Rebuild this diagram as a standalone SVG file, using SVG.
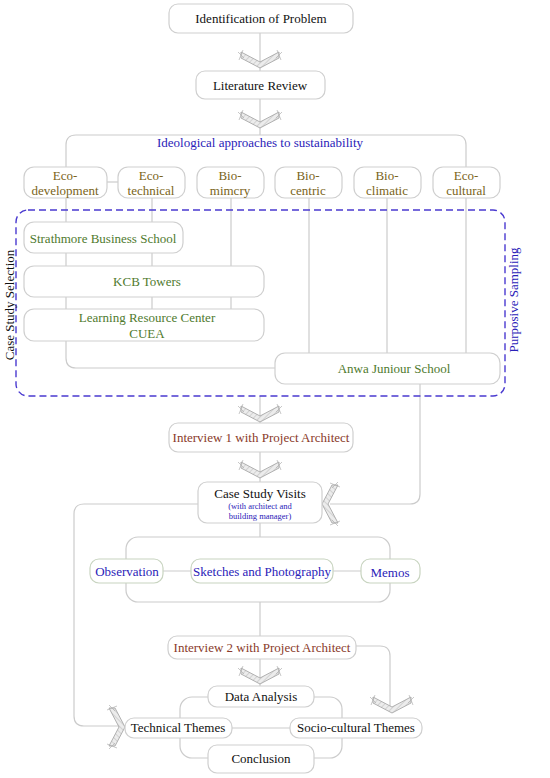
<svg xmlns="http://www.w3.org/2000/svg" width="550" height="778" viewBox="0 0 550 778">
<style>
.box{fill:#fff;stroke:#cfcfcf;stroke-width:1.2}
.gbox{fill:#fff;stroke:#c8d4c0;stroke-width:1.2}
.ln{fill:none;stroke:#cccccc;stroke-width:1.2}
.t{font-family:"Liberation Serif","Times New Roman",serif;font-size:13px;text-anchor:middle}
.blk{fill:#111}
.ol{fill:#7a6420}
.gr{fill:#4f7a2e}
.bl{fill:#2a22b8}
.rd{fill:#8a3a2a}
</style>
<defs>
<pattern id="hatch" width="4" height="4" patternUnits="userSpaceOnUse" patternTransform="rotate(45)">
<rect width="4" height="4" fill="#ececec"/>
<line x1="0" y1="0" x2="0" y2="4" stroke="#b8b8b8" stroke-width="1"/>
</pattern>
<g id="chev">
<polygon points="-19,-16 0,-6 19,-16 19,-10 0,0 -19,-10" fill="url(#hatch)" stroke="#a8a8a8" stroke-width="0.9"/>
<line x1="-22" y1="-16" x2="-16" y2="-10" stroke="#b0b0b0" stroke-width="0.7"/>
<line x1="-17" y1="-18" x2="-21" y2="-8" stroke="#b0b0b0" stroke-width="0.7"/>
<line x1="22" y1="-16" x2="16" y2="-10" stroke="#b0b0b0" stroke-width="0.7"/>
<line x1="17" y1="-18" x2="21" y2="-8" stroke="#b0b0b0" stroke-width="0.7"/>
</g>
</defs>
<rect width="550" height="778" fill="#fff"/>
<g id="connectors">
<path class="ln" d="M260,33 V71"/>
<path class="ln" d="M260,99 V135"/>
<path class="ln" d="M66,167 V145 Q66,135 76,135 H456 Q466,135 466,145 V167"/>
<path class="ln" d="M107,182 H118"/>
<path class="ln" d="M66,198 V358 Q66,368 76,368 H275"/>
<path class="ln" d="M152,198 V309"/>
<path class="ln" d="M231,198 V309"/>
<path class="ln" d="M309,198 V353"/>
<path class="ln" d="M387,198 V353"/>
<path class="ln" d="M466,198 V353"/>
<path class="ln" d="M420,384 V494 Q420,504 410,504 H330"/>
<path class="ln" d="M260,396 V423"/>
<path class="ln" d="M260,452 V482"/>
<path class="ln" d="M198,504 H84 Q74,504 74,514 V716 Q74,726 84,726 H120"/>
<path class="ln" d="M260,523 V537"/>
<rect class="ln" x="126" y="537" width="264" height="65" rx="12"/>
<path class="ln" d="M163,571 H191 M333,571 H361"/>
<path class="ln" d="M260,602 V636"/>
<path class="ln" d="M356,646 H380 Q390,646 390,656 V712"/>
<path class="ln" d="M260,659 V686"/>
<rect class="ln" x="180" y="697" width="162" height="61" rx="12"/>
<path class="ln" d="M232,728 H290"/>
<use href="#chev" transform="translate(260,68)"/>
<use href="#chev" transform="translate(260,128)"/>
<use href="#chev" transform="translate(260,422)"/>
<use href="#chev" transform="translate(260,478)"/>
<use href="#chev" transform="translate(322,504) rotate(90)"/>
<use href="#chev" transform="translate(125,727) rotate(-90)"/>
<use href="#chev" transform="translate(260,684)"/>
<use href="#chev" transform="translate(392,713)"/>
</g>
<g id="n-problem"><rect class="box" x="169" y="4" width="184" height="29" rx="9"/><text class="t blk" x="261" y="23">Identification of Problem</text></g>
<g id="n-lit"><rect class="box" x="196" y="71" width="129" height="28" rx="9"/><text class="t blk" x="260" y="90">Literature Review</text></g>
<g id="n-ideo"><text class="t bl" x="260" y="147">Ideological approaches to sustainability</text></g>
<g id="n-ecodev"><rect class="box" x="24" y="167" width="83" height="31" rx="10"/><text class="t ol" x="65" y="180">Eco-</text><text class="t ol" x="65" y="195">development</text></g>
<g id="n-ecotech"><rect class="box" x="118" y="167" width="67" height="31" rx="10"/><text class="t ol" x="151" y="180">Eco-</text><text class="t ol" x="151" y="195">technical</text></g>
<g id="n-biomim"><rect class="box" x="197" y="167" width="67" height="31" rx="10"/><text class="t ol" x="230" y="180">Bio-</text><text class="t ol" x="230" y="195">mimcry</text></g>
<g id="n-biocen"><rect class="box" x="275" y="167" width="67" height="31" rx="10"/><text class="t ol" x="308" y="180">Bio-</text><text class="t ol" x="308" y="195">centric</text></g>
<g id="n-biocli"><rect class="box" x="354" y="167" width="67" height="31" rx="10"/><text class="t ol" x="387" y="180">Bio-</text><text class="t ol" x="387" y="195">climatic</text></g>
<g id="n-ecocul"><rect class="box" x="433" y="167" width="67" height="31" rx="10"/><text class="t ol" x="466" y="180">Eco-</text><text class="t ol" x="466" y="195">cultural</text></g>
<g id="n-selection">
<rect x="16" y="210" width="489" height="186" rx="12" fill="none" stroke="#4a3ad0" stroke-width="1.4" stroke-dasharray="7,4"/>
<text class="t blk" transform="translate(14,305) rotate(-90)">Case Study Selection</text>
<text class="t bl" transform="translate(518,300) rotate(-90)">Purposive Sampling</text>
</g>
<g id="n-strath"><rect class="box" x="24" y="222" width="159" height="31" rx="10" fill="#fbfffe"/><text class="t gr" x="103" y="243">Strathmore Business School</text></g>
<g id="n-kcb"><rect class="box" x="24" y="266" width="240" height="31" rx="10"/><text class="t gr" x="147" y="286">KCB Towers</text></g>
<g id="n-lrc"><rect class="box" x="24" y="309" width="240" height="32" rx="10"/><text class="t gr" x="147" y="322">Learning Resource Center</text><text class="t gr" x="147" y="338">CUEA</text></g>
<g id="n-anwa"><rect class="box" x="275" y="353" width="225" height="31" rx="10"/><text class="t gr" x="394" y="373">Anwa Juniour School</text></g>
<g id="n-int1"><rect class="box" x="169" y="423" width="184" height="29" rx="9"/><text class="t rd" x="261" y="442">Interview 1 with Project Architect</text></g>
<g id="n-visits"><rect class="box" x="198" y="482" width="124" height="41" rx="9"/><text class="t blk" x="260" y="498">Case Study Visits</text><text class="t bl" x="260" y="509" style="font-size:8.5px">(with architect and</text><text class="t bl" x="260" y="519" style="font-size:8.5px">building manager)</text></g>
<g id="n-obs"><rect class="gbox" x="90" y="559" width="73" height="24" rx="9"/><text class="t bl" x="127" y="576">Observation</text></g>
<g id="n-sketch"><rect class="gbox" x="191" y="559" width="142" height="24" rx="9"/><text class="t bl" x="262" y="576">Sketches and Photography</text></g>
<g id="n-memos"><rect class="gbox" x="361" y="559" width="59" height="24" rx="9"/><text class="t bl" x="390" y="577">Memos</text></g>
<g id="n-int2"><rect class="box" x="168" y="636" width="188" height="23" rx="9" fill="#fffafa"/><text class="t rd" x="262" y="652">Interview 2 with Project Architect</text></g>
<g id="n-data"><rect class="box" x="208" y="686" width="106" height="21" rx="9"/><text class="t blk" x="261" y="701">Data Analysis</text></g>
<g id="n-tech"><rect class="box" x="125" y="718" width="107" height="20" rx="9"/><text class="t blk" x="178" y="732">Technical Themes</text></g>
<g id="n-socio"><rect class="box" x="290" y="718" width="132" height="20" rx="9"/><text class="t blk" x="356" y="732">Socio-cultural Themes</text></g>
<g id="n-concl"><rect class="box" x="208" y="745" width="106" height="28" rx="9"/><text class="t blk" x="261" y="763">Conclusion</text></g>
</svg>
